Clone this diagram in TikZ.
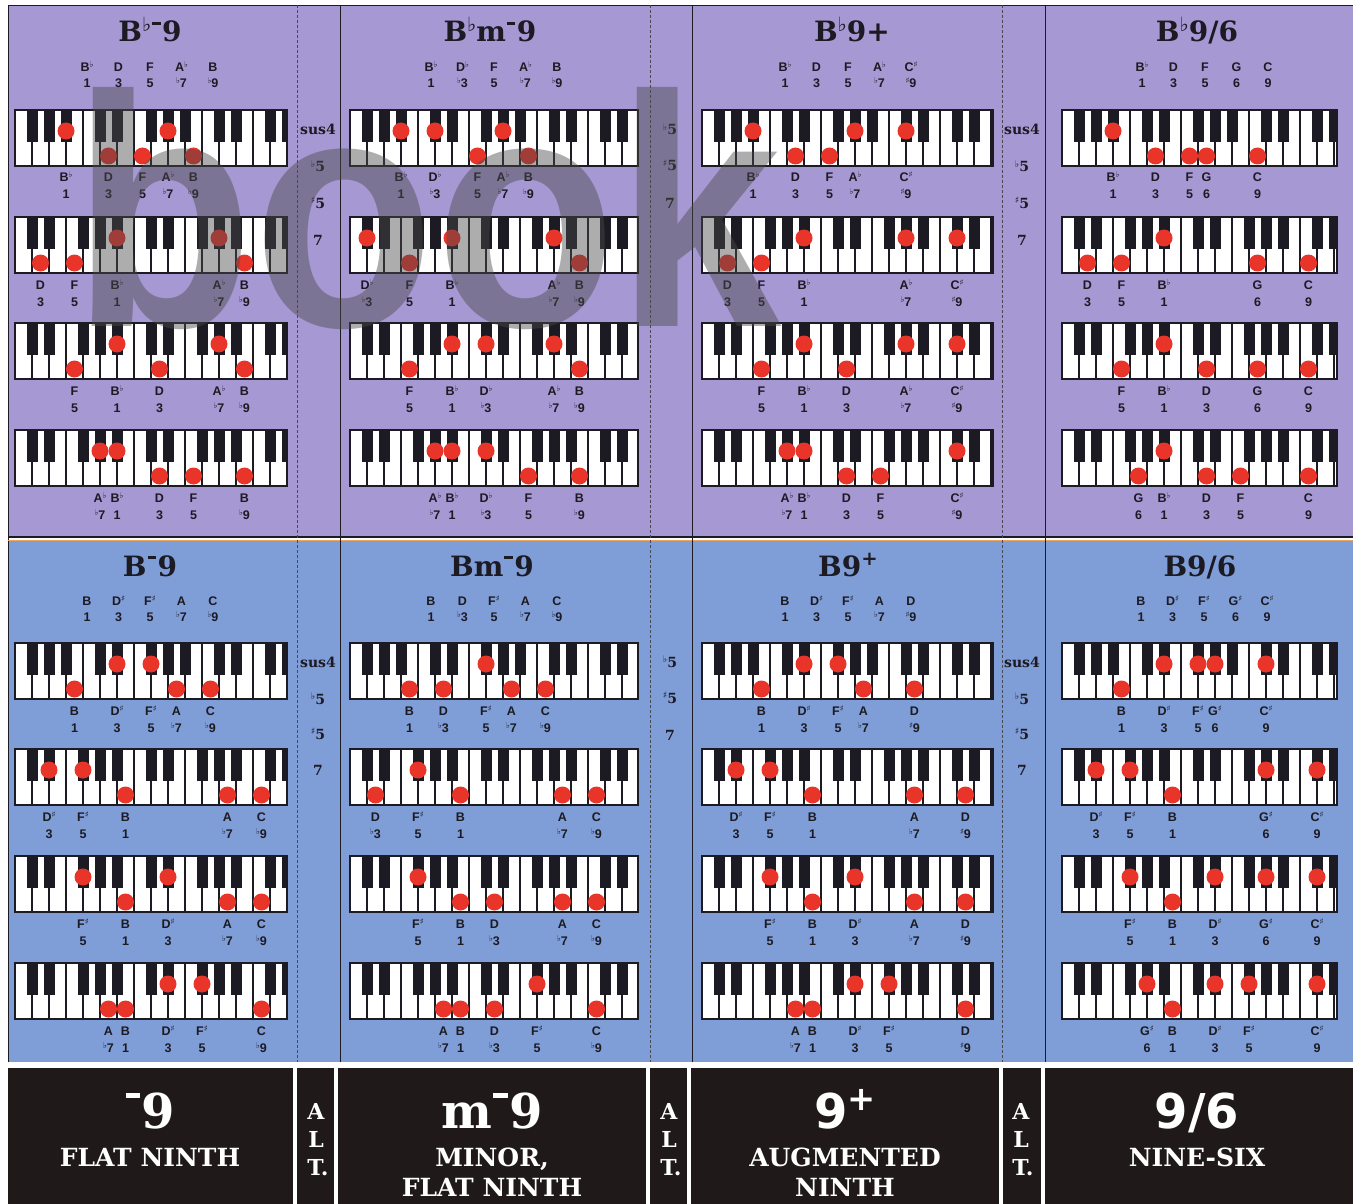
\documentclass[tikz,border=0pt]{standalone}
\usepackage{fontspec}
\setmainfont{DejaVu Serif}
\newfontfamily\symfont{DejaVu Sans}
\newfontfamily\lblfont{Liberation Sans}
\newfontfamily\wmfont{Liberation Sans}

\definecolor{lav}{HTML}{A698D3}
\definecolor{sky}{HTML}{7F9DD7}
\definecolor{dotred}{HTML}{E9342A}
\definecolor{barblk}{HTML}{1F1919}
\definecolor{ink}{HTML}{1C1A22}
\definecolor{wmgray}{HTML}{4A4A4A}

\newcommand\flt{\raisebox{.32em}{\scalebox{.65}{\symfont ♭}}}
\newcommand\shrp{\raisebox{.32em}{\scalebox{.65}{\symfont ♯}}}
\newcommand\tsup[1]{\raisebox{.36em}{\scalebox{.7}{#1}}}
\newcommand\tmin{\kern1pt\rule[.62em]{.3em}{.1em}\kern1.5pt}

\def\blkF{1,2,3,5,6,8,9,10,12,13,15,16}
\def\blkC{1,2,4,5,6,8,9,11,12,13,15,16}

\newcommand\kbd[6]{%
  \begin{scope}[shift={(#1,#2)}]
    \begin{scope}
      \clip (0,0) rectangle (#3,56);
      \fill[white] (0,0) rectangle (#3,56);
      \foreach \i in {1,...,17} \draw[keyline] (\i*17,0) -- (\i*17,56);
      \foreach \i in #4 \fill[ink] (\i*17-5.5,0) rectangle (\i*17+5.5,32);
    \end{scope}
    \draw[kbframe] (0,0) rectangle (#3,56);
    \foreach \kt/\kn/\nm/\iv in {#5} {
      \fill[dotred] ({\kn*17+(1-\kt)*8.5},{46-25*\kt}) circle (8.5pt);
      \node[lbl] (#6n\kn) at ({\kn*17+(1-\kt)*8.5},72) {\nm};
      \node[lbl] (#6v\kn) at ({\kn*17+(1-\kt)*8.5},89) {\iv};
    }
  \end{scope}}

\newcommand\hdr[4]{%
  \foreach \nm/\iv [count=\j] in {#3} {
    \node[lbl] (#4n\j) at ({#1+(\j-3)*31.5},#2) {\nm};
    \node[lbl] (#4v\j) at ({#1+(\j-3)*31.5},{#2+16}) {\iv};
  }}

\begin{document}
\begin{tikzpicture}[x=1pt, y=-1pt,
    lbl/.style={font=\lblfont\bfseries\fontsize{12.5}{12.5}\selectfont, text=ink, anchor=base, inner sep=0pt},
    ttl/.style={font=\bfseries\fontsize{28}{28}\selectfont, text=ink, anchor=base, inner sep=0pt},
    alts/.style={font=\bfseries\fontsize{14}{14}\selectfont, text=ink, anchor=base, inner sep=0pt},
    keyline/.style={draw=ink, line width=1.1pt},
    kbframe/.style={draw=ink, line width=1.6pt},
    dashsep/.style={draw=ink!80, line width=.6pt, dash pattern=on 3pt off 2pt},
    solidsep/.style={draw=ink, line width=.9pt},
    bignum/.style={font=\bfseries\fontsize{48}{48}\selectfont, text=white, anchor=base, inner sep=0pt},
    bigsans/.style={font=\symfont\bfseries\fontsize{48}{48}\selectfont, text=white, anchor=base, inner sep=0pt},
    barcap/.style={font=\bfseries\fontsize{25}{25}\selectfont, text=white, anchor=base, inner sep=0pt},
    altl/.style={font=\bfseries\fontsize{22}{22}\selectfont, text=white, anchor=base, inner sep=0pt},
    wmark/.style={font=\wmfont\bfseries\fontsize{330}{330}\selectfont, text=wmgray, text opacity=.45, anchor=base west, inner sep=0pt}]
  \useasboundingbox (0,0) rectangle (1353,1204);
  \fill[white] (0,0) rectangle (1353,1204);
  \fill[lav] (8,5) rectangle (1353,537);
  \fill[sky] (8,541) rectangle (1353,1062);
  \draw[ink, line width=.8pt] (8,1062) -- (8,5) -- (1353,5);
  \draw[ink, line width=2.5pt] (8,537) -- (1353,537);
  \draw[orange!60!brown!70, line width=1pt] (8,540) -- (1353,540);
  \foreach \x in {297,650,1002} \draw[dashsep] (\x,5) -- (\x,1062);
  \foreach \x in {340,692,1045} \draw[solidsep] (\x,5) -- (\x,1062);

  \node[ttl] (t1) at (150,42) {B\tsup{\symfont ♭}\tmin9};
  \node[ttl] (t2) at (490,42) {B\tsup{\symfont ♭}m\tmin9};
  \node[ttl] (t3) at (852,42) {B\tsup{\symfont ♭}9+};
  \node[ttl] (t4) at (1197,42) {B\tsup{\symfont ♭}9/6};
  \node[ttl] (t5) at (150,576) {B\tmin9};
  \node[ttl] (t6) at (492,576) {Bm\tmin9};
  \node[ttl] (t7) at (848,576) {B9\tsup{+}};
  \node[ttl] (t8) at (1200,576) {B9/6};

  \hdr{150}{72}{B\flt/1, D/3, F/5, A\flt/\flt7, B/\flt9}{h1}
  \hdr{494}{72}{B\flt/1, D\flt/\flt3, F/5, A\flt/\flt7, B/\flt9}{h2}
  \hdr{848}{72}{B\flt/1, D/3, F/5, A\flt/\flt7, C\shrp/\shrp9}{h3}
  \hdr{1205}{72}{B\flt/1, D/3, F/5, G/6, C/9}{h4}
  \hdr{150}{605}{B/1, D\shrp/3, F\shrp/5, A/\flt7, C/\flt9}{h5}
  \hdr{494}{605}{B/1, D/\flt3, F\shrp/5, A/\flt7, C/\flt9}{h6}
  \hdr{848}{605}{B/1, D\shrp/3, F\shrp/5, A/\flt7, D/\shrp9}{h7}
  \hdr{1204}{605}{B/1, D\shrp/3, F\shrp/5, G\shrp/6, C\shrp/9}{h8}

  \kbd{15}{110}{272}{\blkF}{1/3/B\flt/1, 0/5/D/3, 0/7/F/5, 1/9/A\flt/\flt7, 0/10/B/\flt9}{ka}
  \kbd{15}{217}{272}{\blkC}{0/1/D/3, 0/3/F/5, 1/6/B\flt/1, 1/12/A\flt/\flt7, 0/13/B/\flt9}{kb}
  \kbd{15}{323}{272}{\blkC}{0/3/F/5, 1/6/B\flt/1, 0/8/D/3, 1/12/A\flt/\flt7, 0/13/B/\flt9}{kc}
  \kbd{15}{430}{272}{\blkC}{1/5/A\flt/\flt7, 1/6/B\flt/1, 0/8/D/3, 0/10/F/5, 0/13/B/\flt9}{kd}

  \kbd{350}{110}{288}{\blkF}{1/3/B\flt/1, 1/5/D\flt/\flt3, 0/7/F/5, 1/9/A\flt/\flt7, 0/10/B/\flt9}{ke}
  \kbd{350}{217}{288}{\blkC}{1/1/D\flt/\flt3, 0/3/F/5, 1/6/B\flt/1, 1/12/A\flt/\flt7, 0/13/B/\flt9}{kf}
  \kbd{350}{323}{288}{\blkC}{0/3/F/5, 1/6/B\flt/1, 1/8/D\flt/\flt3, 1/12/A\flt/\flt7, 0/13/B/\flt9}{kg}
  \kbd{350}{430}{288}{\blkC}{1/5/A\flt/\flt7, 1/6/B\flt/1, 1/8/D\flt/\flt3, 0/10/F/5, 0/13/B/\flt9}{kh}

  \kbd{702}{110}{291}{\blkF}{1/3/B\flt/1, 0/5/D/3, 0/7/F/5, 1/9/A\flt/\flt7, 1/12/C\shrp/\shrp9}{ki}
  \kbd{702}{217}{291}{\blkC}{0/1/D/3, 0/3/F/5, 1/6/B\flt/1, 1/12/A\flt/\flt7, 1/15/C\shrp/\shrp9}{kj}
  \kbd{702}{323}{291}{\blkC}{0/3/F/5, 1/6/B\flt/1, 0/8/D/3, 1/12/A\flt/\flt7, 1/15/C\shrp/\shrp9}{kk}
  \kbd{702}{430}{291}{\blkC}{1/5/A\flt/\flt7, 1/6/B\flt/1, 0/8/D/3, 0/10/F/5, 1/15/C\shrp/\shrp9}{kl}

  \kbd{1062}{110}{275}{\blkF}{1/3/B\flt/1, 0/5/D/3, 0/7/F/5, 0/8/G/6, 0/11/C/9}{km}
  \kbd{1062}{217}{275}{\blkC}{0/1/D/3, 0/3/F/5, 1/6/B\flt/1, 0/11/G/6, 0/14/C/9}{kn}
  \kbd{1062}{323}{275}{\blkC}{0/3/F/5, 1/6/B\flt/1, 0/8/D/3, 0/11/G/6, 0/14/C/9}{ko}
  \kbd{1062}{430}{275}{\blkC}{0/4/G/6, 1/6/B\flt/1, 0/8/D/3, 0/10/F/5, 0/14/C/9}{kp}

  \kbd{15}{643}{272}{\blkF}{0/3/B/1, 1/6/D\shrp/3, 1/8/F\shrp/5, 0/9/A/\flt7, 0/11/C/\flt9}{kq}
  \kbd{15}{749}{272}{\blkC}{1/2/D\shrp/3, 1/4/F\shrp/5, 0/6/B/1, 0/12/A/\flt7, 0/14/C/\flt9}{kr}
  \kbd{15}{856}{272}{\blkC}{1/4/F\shrp/5, 0/6/B/1, 1/9/D\shrp/3, 0/12/A/\flt7, 0/14/C/\flt9}{ks}
  \kbd{15}{963}{272}{\blkC}{0/5/A/\flt7, 0/6/B/1, 1/9/D\shrp/3, 1/11/F\shrp/5, 0/14/C/\flt9}{kt}

  \kbd{350}{643}{288}{\blkF}{0/3/B/1, 0/5/D/\flt3, 1/8/F\shrp/5, 0/9/A/\flt7, 0/11/C/\flt9}{ku}
  \kbd{350}{749}{288}{\blkC}{0/1/D/\flt3, 1/4/F\shrp/5, 0/6/B/1, 0/12/A/\flt7, 0/14/C/\flt9}{kv}
  \kbd{350}{856}{288}{\blkC}{1/4/F\shrp/5, 0/6/B/1, 0/8/D/\flt3, 0/12/A/\flt7, 0/14/C/\flt9}{kw}
  \kbd{350}{963}{288}{\blkC}{0/5/A/\flt7, 0/6/B/1, 0/8/D/\flt3, 1/11/F\shrp/5, 0/14/C/\flt9}{kx}

  \kbd{702}{643}{291}{\blkF}{0/3/B/1, 1/6/D\shrp/3, 1/8/F\shrp/5, 0/9/A/\flt7, 0/12/D/\shrp9}{ky}
  \kbd{702}{749}{291}{\blkC}{1/2/D\shrp/3, 1/4/F\shrp/5, 0/6/B/1, 0/12/A/\flt7, 0/15/D/\shrp9}{kz}
  \kbd{702}{856}{291}{\blkC}{1/4/F\shrp/5, 0/6/B/1, 1/9/D\shrp/3, 0/12/A/\flt7, 0/15/D/\shrp9}{kA}
  \kbd{702}{963}{291}{\blkC}{0/5/A/\flt7, 0/6/B/1, 1/9/D\shrp/3, 1/11/F\shrp/5, 0/15/D/\shrp9}{kB}

  \kbd{1062}{643}{275}{\blkF}{0/3/B/1, 1/6/D\shrp/3, 1/8/F\shrp/5, 1/9/G\shrp/6, 1/12/C\shrp/9}{kC}
  \kbd{1062}{749}{275}{\blkC}{1/2/D\shrp/3, 1/4/F\shrp/5, 0/6/B/1, 1/12/G\shrp/6, 1/15/C\shrp/9}{kD}
  \kbd{1062}{856}{275}{\blkC}{1/4/F\shrp/5, 0/6/B/1, 1/9/D\shrp/3, 1/12/G\shrp/6, 1/15/C\shrp/9}{kE}
  \kbd{1062}{963}{275}{\blkC}{1/5/G\shrp/6, 0/6/B/1, 1/9/D\shrp/3, 1/11/F\shrp/5, 1/15/C\shrp/9}{kF}

  \foreach \x/\y/\s/\nm in {318/135/sus4/a1, 318/172/\flt5/a2, 318/208/\shrp5/a3, 318/245/7/a4,
      670/135/\flt5/a5, 670/171/\shrp5/a6, 670/208/7/a7,
      1022/135/sus4/a8, 1022/172/\flt5/a9, 1022/208/\shrp5/a10, 1022/245/7/a11,
      318/667/sus4/b1, 318/704/\flt5/b2, 318/739/\shrp5/b3, 318/775/7/b4,
      670/667/\flt5/b5, 670/703/\shrp5/b6, 670/740/7/b7,
      1022/667/sus4/b8, 1022/704/\flt5/b9, 1022/739/\shrp5/b10, 1022/775/7/b11}
    \node[alts] (\nm) at (\x,\y) {\s};

  \foreach \a/\b in {8/293, 297/334, 338/646, 650/687, 691/999, 1003/1041, 1045/1353}
    \fill[barblk] (\a,1068) rectangle (\b,1204);

  \node[bignum] (n1) at (150,1128) {\tmin9};
  \node[barcap] (c1) at (150,1166) {FLAT NINTH};
  \node[bignum] (n2) at (492,1128) {m\tmin9};
  \node[barcap] (c2) at (492,1166) {MINOR,};
  \node[barcap] (d2) at (492,1196) {FLAT NINTH};
  \node[bigsans] (n3) at (845,1128) {9\tsup{+}};
  \node[barcap] (c3) at (845,1166) {AUGMENTED};
  \node[barcap] (d3) at (845,1196) {NINTH};
  \node[bigsans] (n4) at (1197,1128) {9/6};
  \node[barcap] (c4) at (1197,1166) {NINE-SIX};

  \foreach \x in {316,669,1021} {
    \node[altl] (A\x) at (\x,1119) {A};
    \node[altl] (L\x) at (\x,1147) {L};
    \node[altl] (T\x) at (\x+2,1175) {T.};
  }

  \node[wmark] (wm) at (72,326) {\scalebox{.9}[1]{book}};
\end{tikzpicture}
\end{document}
